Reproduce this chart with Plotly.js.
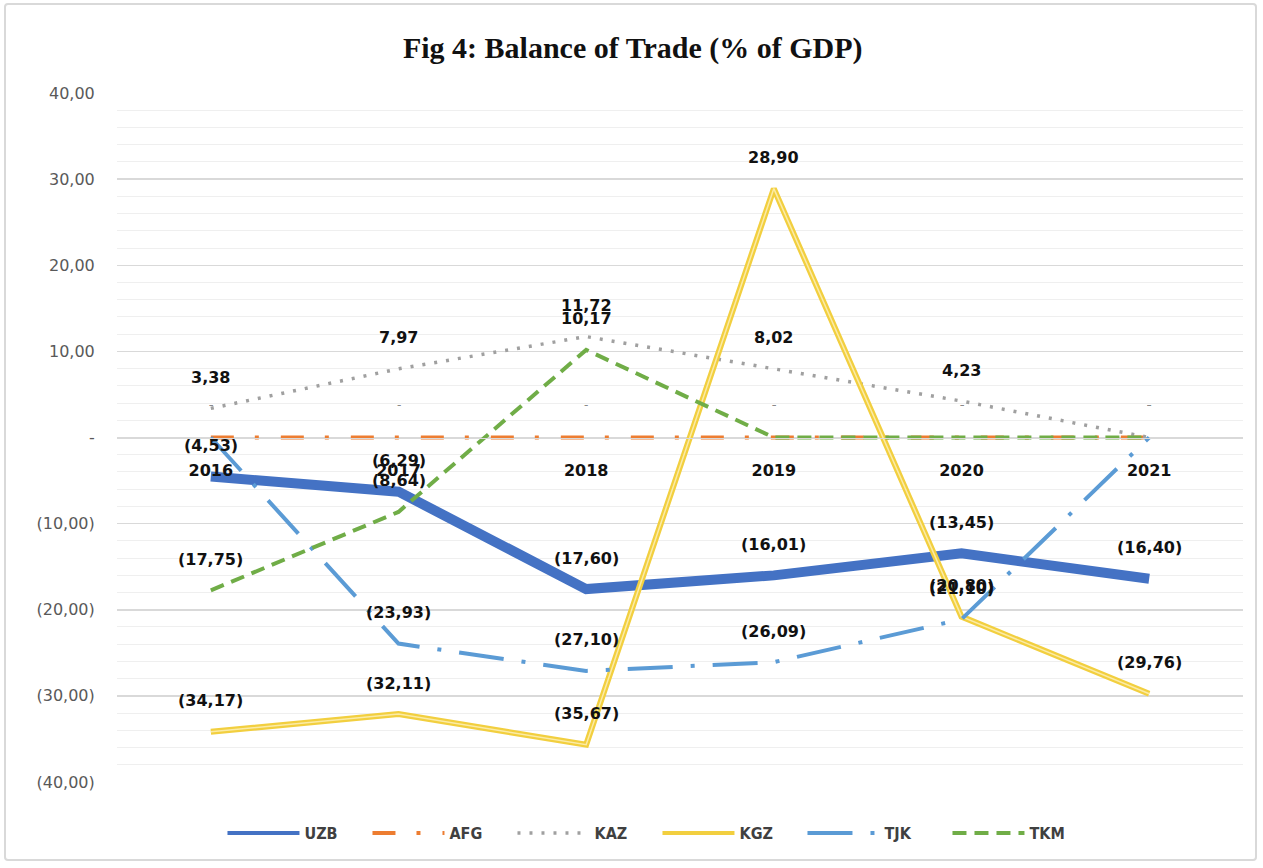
<!DOCTYPE html>
<html>
<head>
<meta charset="utf-8">
<script src="https://cdn.plot.ly/plotly-3.0.1.min.js"></script>
<style>
  html, body { margin: 0; padding: 0; background: #fff; }
  #wrap { position: relative; width: 1263px; height: 868px; }
  #chart { width: 1263px; height: 868px; }
  #frame { position: absolute; left: 4px; top: 3px; width: 1253px; height: 858px;
           border: 2px solid #d9d9d9; border-radius: 4px; pointer-events: none; box-sizing: border-box; }
</style>
</head>
<body>
<div id="wrap"><div id="chart"></div><div id="frame"></div></div>
<script>
// ---- data ----
const years = ["2016", "2017", "2018", "2019", "2020", "2021"];
const UZB = [-4.53, -6.29, -17.60, -16.01, -13.45, -16.40];
const AFG = [0, 0, 0, 0, 0, 0];
const KAZ = [3.38, 7.97, 11.72, 8.02, 4.23, 0];
const KGZ = [-34.17, -32.11, -35.67, 28.90, -20.80, -29.76];
const TJK = [0, -23.93, -27.10, -26.09, -21.10, 0];
const TKM = [-17.75, -8.64, 10.17, 0, 0, 0];
const yTickVals = [40, 30, 20, 10, 0, -10, -20, -30, -40];
const yTickText = ["40,00", "30,00", "20,00", "10,00", "-", "(10,00)", "(20,00)", "(30,00)", "(40,00)"];

function fmt(v) {
  if (v === 0) return "-";
  const s = Math.abs(v).toFixed(2).replace('.', ',');
  return v < 0 ? "(" + s + ")" : s;
}

const series = [
  {name: "UZB", y: UZB, line: {color: "#4472C4", width: 10}},
  {name: "AFG", y: AFG, line: {color: "#ED7D31", width: 4, dash: "23px,21px,4px,22px"}},
  {name: "KAZ", y: KAZ, line: {color: "#A0A0A0", width: 3.5, dash: "3px,9px"}},
  {name: "KGZ", y: KGZ, line: {color: "#F2CF3F", width: 6}},
  {name: "TJK", y: TJK, line: {color: "#5B9BD5", width: 4, dash: "45px,18px,4px,18px"}},
  {name: "TKM", y: TKM, line: {color: "#70AD47", width: 4, dash: "14px,8px"}}
];

const traces = [];
series.forEach(s => {
  traces.push({
    type: "scatter", mode: "lines", x: years, y: s.y, name: s.name,
    line: s.line, hoverinfo: "skip"
  });
  if (s.name === "KGZ") {
    traces.push({
      type: "scatter", mode: "lines", x: years, y: s.y, name: "KGZ-inner",
      line: {color: "#FBEBA6", width: 1.5}, showlegend: false, hoverinfo: "skip"
    });
  }
});

const annotations = [];
series.forEach(s => {
  s.y.forEach((v, i) => {
    const zero = (v === 0);
    annotations.push({
      x: i, y: v, xref: "x", yref: "y",
      text: zero ? "-" : "<b>" + fmt(v) + "</b>", showarrow: false,
      xanchor: "center", yanchor: "middle",
      yshift: zero ? 33 : 31,
      font: {family: "DejaVu Sans", size: zero ? 12 : 16, color: zero ? "#8a8a8a" : "#111111"}
    });
  });
});

const layout = {
  width: 1263, height: 868,
  margin: {l: 117, r: 20, t: 93, b: 86},
  paper_bgcolor: "#ffffff", plot_bgcolor: "#ffffff",
  title: {
    text: "<b>Fig 4: Balance of Trade (% of GDP)</b>",
    font: {family: "Liberation Serif", size: 30, color: "#111111"},
    x: 0.501, xanchor: "center", y: 0.945, yanchor: "middle"
  },
  xaxis: {
    type: "category", range: [-0.5, 5.5], anchor: "free", position: 0.5,
    showgrid: false, zeroline: false, showline: true, linecolor: "#d9d9d9", linewidth: 1.5,
    ticks: "outside", ticklen: 18, tickcolor: "rgba(0,0,0,0)",
    tickfont: {family: "DejaVu Sans", size: 16, color: "#111111", weight: "bold"},
    fixedrange: true
  },
  yaxis: {
    range: [-40, 40], tickmode: "array", tickvals: yTickVals, ticktext: yTickText,
    showgrid: true, gridcolor: "#d9d9d9", gridwidth: 1.5, zeroline: false,
    ticks: "outside", ticklen: 18, tickcolor: "rgba(0,0,0,0)",
    tickfont: {family: "DejaVu Sans", size: 16, color: "#595959"},
    minor: {tickmode: "linear", tick0: 0, dtick: 2, showgrid: true, gridcolor: "#efefef", gridwidth: 1},
    fixedrange: true
  },
  legend: {
    orientation: "h", x: 0.48, xanchor: "center", y: -0.074, yanchor: "middle",
    font: {family: "Liberation Sans Narrow, DejaVu Sans Condensed, Liberation Sans", size: 16, color: "#404040", weight: "bold"},
    itemwidth: 72, entrywidth: 58, entrywidthmode: "pixels", tracegroupgap: 0
  },
  annotations: annotations,
  showlegend: true
};

Plotly.newPlot("chart", traces, layout, {displayModeBar: false, staticPlot: true}).then(gd => {
  // thinner line samples in the legend, as in the reference
  gd.querySelectorAll(".legend .traces path.js-line").forEach(p => {
    const w = parseFloat(p.style.strokeWidth || "4");
    p.style.strokeWidth = Math.min(w, 4) + "px";
  });
});
</script>
</body>
</html>
